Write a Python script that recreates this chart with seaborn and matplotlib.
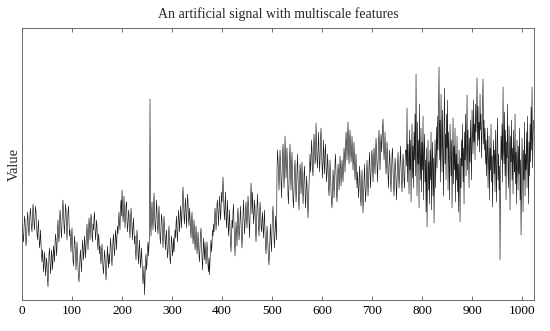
# Artificial multiscale signal (1024 samples)
import numpy as np
import pandas as pd
import seaborn as sns
import matplotlib
matplotlib.use("Agg")
import matplotlib.pyplot as plt

# signal values, 16 samples per row
signal = [
    70, 76, 62, 58, 72, 84, 80, 66, 54, 60, 74, 88, 82, 70, 64, 78,
    86, 92, 80, 72, 68, 84, 96, 90, 76, 70, 82, 94, 88, 74, 66, 60,
    72, 80, 64, 52, 58, 70, 56, 44, 38, 50, 42, 28, 34, 48, 40, 24,
    30, 42, 36, 20, 13, 28, 46, 52, 38, 26, 34, 50, 44, 30, 40, 54,
    48, 38, 56, 66, 60, 44, 52, 72, 80, 64, 58, 76, 90, 84, 70, 62,
    78, 92, 100, 86, 74, 66, 82, 96, 90, 72, 60, 76, 88, 94, 80, 64,
    70, 58, 48, 62, 72, 54, 40, 34, 50, 64, 56, 42, 30, 46, 58, 44,
    32, 22, 18, 30, 44, 50, 36, 28, 46, 60, 52, 40, 48, 64, 56, 42,
    54, 68, 76, 62, 50, 66, 82, 74, 60, 72, 86, 80, 64, 58, 76, 70,
    82, 88, 72, 60, 68, 80, 74, 56, 50, 66, 62, 46, 54, 42, 36, 48,
    56, 44, 32, 26, 38, 50, 42, 30, 20, 28, 44, 54, 40, 32, 46, 36,
    48, 62, 54, 40, 34, 50, 60, 66, 52, 44, 58, 70, 62, 50, 64, 74,
    66, 80, 88, 76, 70, 92, 100, 84, 110, 96, 78, 86, 104, 90, 72, 82,
    94, 98, 80, 68, 76, 90, 86, 70, 62, 78, 92, 84, 72, 60, 74, 82,
    68, 56, 64, 48, 40, 58, 70, 62, 46, 36, 50, 60, 44, 32, 42, 52,
    38, 26, 16, 24, 34, 5, 20, 40, 46, 30, 36, 52, 58, 44, 56, 66,
    201, 78, 64, 86, 98, 80, 70, 92, 107, 90, 74, 68, 84, 100, 88, 72,
    66, 82, 94, 78, 62, 56, 74, 86, 80, 64, 52, 70, 84, 72, 58, 50,
    62, 70, 54, 42, 48, 66, 74, 58, 40, 36, 52, 64, 56, 44, 50, 62,
    48, 56, 70, 62, 76, 84, 66, 58, 74, 90, 82, 68, 78, 94, 86, 72,
    88, 104, 113, 96, 82, 76, 94, 102, 86, 72, 90, 106, 98, 80, 74, 92,
    84, 70, 62, 78, 88, 72, 56, 64, 80, 68, 50, 58, 74, 62, 46, 54,
    68, 60, 44, 38, 54, 66, 72, 56, 42, 30, 48, 62, 52, 40, 58, 46,
    36, 44, 58, 50, 34, 28, 42, 25, 38, 52, 60, 48, 56, 70, 64, 76,
    68, 80, 92, 84, 70, 78, 96, 100, 86, 74, 88, 104, 94, 80, 90, 108,
    98, 112, 123, 104, 90, 80, 96, 108, 84, 72, 88, 100, 78, 64, 76, 90,
    70, 56, 48, 64, 80, 72, 88, 96, 74, 58, 44, 62, 78, 68, 54, 84,
    92, 76, 60, 68, 82, 94, 78, 62, 52, 70, 86, 100, 84, 66, 74, 90,
    98, 82, 72, 90, 104, 94, 78, 62, 84, 96, 117, 100, 86, 108, 92, 76,
    84, 100, 92, 70, 58, 76, 94, 106, 88, 72, 64, 82, 98, 90, 74, 68,
    80, 88, 72, 62, 78, 90, 68, 54, 46, 60, 74, 66, 52, 42, 35, 50,
    64, 76, 58, 48, 70, 86, 94, 78, 62, 52, 68, 84, 72, 60, 130, 150,
    140, 124, 110, 132, 150, 138, 118, 102, 126, 146, 156, 134, 112, 128, 164, 144,
    122, 136, 152, 130, 104, 96, 120, 142, 156, 126, 110, 134, 148, 118, 100, 92,
    114, 132, 140, 118, 98, 108, 130, 146, 124, 102, 90, 112, 136, 128, 106, 120,
    138, 116, 96, 108, 126, 134, 110, 92, 104, 124, 114, 98, 82, 100, 118, 132,
    146, 128, 138, 160, 150, 130, 124, 148, 166, 154, 136, 142, 177, 158, 140, 132,
    152, 168, 146, 128, 140, 162, 172, 150, 134, 122, 144, 160, 138, 126, 148, 156,
    134, 118, 128, 146, 136, 112, 104, 124, 140, 126, 108, 98, 92, 110, 130, 120,
    102, 116, 138, 146, 124, 106, 98, 118, 136, 128, 110, 122, 144, 132, 114, 126,
    140, 130, 118, 136, 152, 144, 128, 150, 168, 156, 140, 162, 178, 150, 136, 158,
    170, 154, 138, 148, 164, 146, 130, 142, 158, 136, 120, 132, 146, 124, 112, 128,
    118, 102, 112, 134, 124, 100, 94, 116, 130, 110, 87, 104, 122, 136, 114, 98,
    108, 128, 140, 120, 104, 118, 136, 148, 126, 112, 130, 144, 150, 132, 118, 138,
    152, 140, 126, 144, 162, 150, 132, 118, 138, 158, 170, 146, 130, 152, 166, 148,
    160, 172, 181, 156, 140, 150, 168, 144, 126, 136, 158, 146, 124, 112, 134, 150,
    138, 120, 108, 126, 146, 152, 130, 114, 104, 122, 142, 134, 116, 100, 118, 136,
    148, 128, 112, 124, 140, 154, 132, 118, 108, 130, 146, 138, 120, 112, 134, 150,
    150, 134, 192, 118, 156, 140, 106, 170, 130, 160, 98, 146, 176, 122, 154, 112,
    168, 140, 186, 124, 226, 150, 104, 178, 136, 160, 92, 196, 144, 120, 172, 108,
    158, 130, 184, 100, 146, 166, 118, 140, 88, 152, 73, 124, 160, 110, 138, 96,
    150, 120, 168, 90, 136, 158, 104, 142, 77, 126, 160, 112, 146, 173, 132, 184,
    150, 196, 233, 140, 180, 118, 206, 160, 128, 190, 146, 104, 174, 212, 136, 166,
    120, 186, 152, 200, 110, 168, 138, 100, 176, 148, 124, 160, 92, 140, 182, 116,
    154, 130, 172, 98, 146, 120, 164, 108, 136, 88, 150, 126, 78, 142, 112, 160,
    134, 176, 118, 152, 96, 168, 140, 186, 124, 158, 205, 130, 170, 146, 112, 162,
    138, 180, 150, 120, 190, 164, 146, 200, 158, 176, 140, 196, 168, 184, 222, 154,
    194, 160, 178, 148, 206, 170, 186, 142, 168, 198, 221, 156, 180, 150, 172, 136,
    160, 124, 148, 172, 112, 140, 164, 100, 152, 130, 176, 118, 144, 93, 138, 160,
    126, 150, 108, 170, 136, 98, 158, 182, 120, 146, 110, 134, 40, 128, 164, 140,
    176, 118, 213, 150, 136, 188, 124, 170, 100, 158, 142, 196, 130, 112, 174, 148,
    90, 164, 138, 180, 120, 152, 106, 170, 140, 128, 186, 116, 148, 96, 160, 134,
    110, 154, 126, 172, 100, 140, 65, 118, 162, 134, 88, 150, 120, 178, 104, 146,
    130, 168, 112, 184, 142, 96, 158, 124, 176, 138, 193, 150, 213, 132, 164, 180,
]
xticks = list(range(0, 1001, 100))

df = pd.DataFrame({"sample": np.arange(len(signal)), "value": signal})

sns.set_style("ticks")
plt.rcParams["font.family"] = ["Liberation Serif", "DejaVu Serif"]

fig = plt.figure(figsize=(5.5, 3.31), dpi=100)
ax = fig.add_axes([0.04, 0.094, 0.931, 0.821])
sns.lineplot(data=df, x="sample", y="value", estimator=None,
             color="#1a1a1a", linewidth=0.45, ax=ax)

ax.set_xlim(0, 1024)
ax.set_ylim(0, 272)
ax.set_xticks(xticks)
ax.set_yticks([])
ax.tick_params(axis="x", direction="in", top=True, length=3,
               width=0.5, labelsize=9.5, pad=4, colors="#333333", labelcolor="black")
for s in ax.spines.values():
    s.set_visible(True)
    s.set_linewidth(0.6)
    s.set_color("#555555")
ax.set_xlabel("")
ax.set_ylabel("Value", fontsize=10.5, labelpad=1)
ax.set_title("An artificial signal with multiscale features", fontsize=10, pad=7)

fig.savefig("out.png", dpi=100)
